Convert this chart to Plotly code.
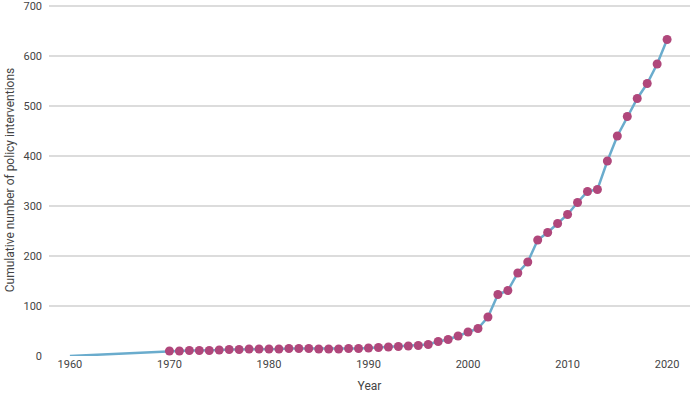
import plotly.graph_objects as go

line_years = [1960] + list(range(1970, 2021))
marker_years = list(range(1970, 2021))
values = [10, 10, 11, 11, 11, 12, 13, 13, 14, 14,
          14, 14, 15, 15, 15, 14, 14, 14, 15, 15,
          16, 17, 18, 19, 20, 21, 23, 29, 33, 40,
          48, 55, 78, 123, 131, 166, 188, 232, 247, 265,
          283, 307, 329, 333, 390, 440, 479, 515, 545, 584,
          633]
line_values = [0] + values

fig = go.Figure()
fig.add_trace(go.Scatter(x=line_years, y=line_values, mode="lines",
                         line=dict(color="#6aaccd", width=2.5),
                         hoverinfo="skip", showlegend=False))
fig.add_trace(go.Scatter(x=marker_years, y=values, mode="markers",
                         marker=dict(color="#b0477b", size=9),
                         showlegend=False))

fig.update_layout(
    width=690, height=393,
    margin=dict(l=49, r=0, t=4, b=37),
    plot_bgcolor="white", paper_bgcolor="white",
    font=dict(family="Roboto", size=11, color="#444"),
    xaxis=dict(range=[1957.9, 2022.3], tickvals=[1960, 1970, 1980, 1990, 2000, 2010, 2020],
               showgrid=False, zeroline=False, showline=False, automargin=False,
               ticklabeloverflow="allow",
               title=dict(text="Year", font=dict(size=12, color="#444"), standoff=11),
               ticks="", ticklen=5),
    yaxis=dict(range=[0, 704], tickvals=[0, 100, 200, 300, 400, 500, 600, 700],
               showgrid=True, gridcolor="#dcdcdc", gridwidth=1.5, zeroline=False,
               automargin=False, ticklabeloverflow="allow",
               title=dict(text="Cumulative number of policy interventions",
                          font=dict(size=12, color="#444"), standoff=6),
               ticks="", ticklabelstandoff=6),
)
fig.write_html("out.html", config={"displayModeBar": False},
               post_script="document.body.style.margin='0';document.body.style.padding='0';")
